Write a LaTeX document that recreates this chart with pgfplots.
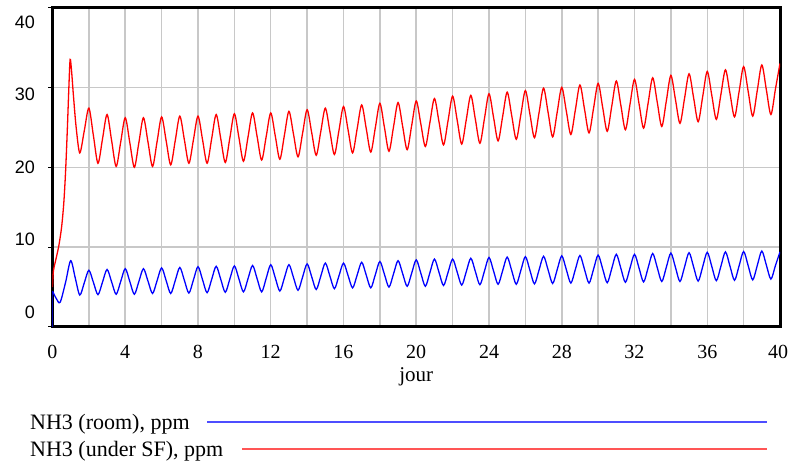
\documentclass[border=0pt]{standalone}
\usepackage{fontspec}
\setmainfont{Liberation Serif}
\newfontfamily\arialf{Liberation Sans}
\usepackage{pgfplots}
\pgfplotsset{compat=1.18}
\definecolor{gridgray}{RGB}{200,200,200}
\definecolor{legblue}{RGB}{77,77,255}
\definecolor{legred}{RGB}{255,85,85}
\begin{document}
\begin{tikzpicture}[x=1pt,y=1pt]
\begin{axis}[
 at={(0,0)}, anchor=south west,
 scale only axis, width=727.5pt, height=319.5pt,
 xmin=0,xmax=40,ymin=0,ymax=40,
 axis line style={line width=3pt, black},
 xtick={0,2,...,40},
 xticklabels={0,,4,,8,,12,,16,,20,,24,,28,,32,,36,,{\hbox to 24pt{40\hss}}},
 xticklabel style={font=\fontsize{20}{24}\selectfont, anchor=base, yshift=-27.7pt, inner sep=0pt},
 xtick style={draw=none},
 ytick={0,10,20,30,40},
 yticklabels={},
 ytick style={draw=black, line width=1pt},
 tick align=outside, ytick pos=left, xtick pos=bottom, major tick length=4pt,
 grid=major, grid style={gridgray, line width=1.5pt},
 extra y ticks={1.78,10.96,19.96,29.1,38.2},
 extra y tick labels={0,10,20,30,40},
 extra y tick style={grid=none, major tick length=0pt, tick style={draw=none}, yticklabel style={font=\arialf\fontsize{18}{22}\selectfont, anchor=east, inner sep=0pt, xshift=-17.5pt}},
]
\addplot[red, line width=1.3pt, smooth] coordinates {
(0,5.0) (0.05,7.0) (0.2,8.6) (0.35,10.2) (0.5,12.5) (0.62,15.5) (0.72,19.5) (0.82,25) (0.9,30) (0.97,33.5) (1.05,32) (1.15,29) (1.3,25) (1.5,21.8) (1.75,24.6) (2,27.4) (2.25,23.95) (2.5,20.5) (2.75,23.55) (3,26.6) (3.25,23.35) (3.5,20.1) (3.75,23.15) (4,26.2) (4.25,23.1) (4.5,20.0) (4.75,23.1) (5,26.2) (5.25,23.15) (5.5,20.1) (5.75,23.2) (6,26.3) (6.25,23.3) (6.5,20.3) (6.75,23.35) (7,26.4) (7.25,23.45) (7.5,20.5) (7.75,23.45) (8,26.4) (8.25,23.45) (8.5,20.5) (8.75,23.55) (9,26.6) (9.25,23.6) (9.5,20.6) (9.75,23.65) (10,26.7) (10.25,23.72) (10.5,20.75) (10.75,23.78) (11,26.8) (11.25,23.85) (11.5,20.9) (11.75,23.85) (12,26.8) (12.25,23.9) (12.5,21.0) (12.75,24.0) (13,27.0) (13.25,24.15) (13.5,21.3) (13.75,24.25) (14,27.2) (14.25,24.35) (14.5,21.5) (14.75,24.45) (15,27.4) (15.25,24.5) (15.5,21.6) (15.75,24.6) (16,27.6) (16.25,24.7) (16.5,21.8) (16.75,24.8) (17,27.8) (17.25,24.85) (17.5,21.9) (17.75,24.95) (18,28.0) (18.25,25.0) (18.5,22.0) (18.75,25.05) (19,28.1) (19.25,25.15) (19.5,22.2) (19.75,25.25) (20,28.3) (20.25,25.45) (20.5,22.6) (20.75,25.6) (21,28.6) (21.25,25.7) (21.5,22.8) (21.75,25.85) (22,28.9) (22.25,25.9) (22.5,22.9) (22.75,25.95) (23,29.0) (23.25,26.0) (23.5,23.0) (23.75,26.1) (24,29.2) (24.25,26.25) (24.5,23.3) (24.75,26.35) (25,29.4) (25.25,26.45) (25.5,23.5) (25.75,26.55) (26,29.6) (26.25,26.65) (26.5,23.7) (26.75,26.8) (27,29.9) (27.25,26.85) (27.5,23.8) (27.75,26.9) (28,30.0) (28.25,27.05) (28.5,24.1) (28.75,27.2) (29,30.3) (29.25,27.3) (29.5,24.3) (29.75,27.4) (30,30.5) (30.25,27.5) (30.5,24.5) (30.75,27.65) (31,30.8) (31.25,27.75) (31.5,24.7) (31.75,27.85) (32,31.0) (32.25,27.95) (32.5,24.9) (32.75,28.05) (33,31.2) (33.25,28.15) (33.5,25.1) (33.75,28.3) (34,31.5) (34.25,28.5) (34.5,25.5) (34.75,28.6) (35,31.7) (35.25,28.7) (35.5,25.7) (35.75,28.85) (36,32.0) (36.25,29.0) (36.5,26.0) (36.75,29.1) (37,32.2) (37.25,29.25) (37.5,26.3) (37.75,29.45) (38,32.6) (38.25,29.5) (38.5,26.4) (38.75,29.6) (39,32.8) (39.25,29.7) (39.5,26.6) (39.75,29.8) (40,33.0)
};
\addplot[blue, line width=1.3pt] coordinates {(0,0) (0,4.5)};
\addplot[blue, line width=1.3pt, smooth] coordinates {
(0,4.5) (0.2,3.6) (0.42,3.1) (0.72,5.6) (1,8.3) (1.25,6.15) (1.5,4.0) (1.75,5.55) (2,7.1) (2.25,5.58) (2.5,4.05) (2.75,5.62) (3,7.2) (3.25,5.65) (3.5,4.1) (3.75,5.7) (4,7.3) (4.25,5.7) (4.5,4.1) (4.75,5.7) (5,7.3) (5.25,5.75) (5.5,4.2) (5.75,5.8) (6,7.4) (6.25,5.8) (6.5,4.2) (6.75,5.82) (7,7.45) (7.25,5.85) (7.5,4.25) (7.75,5.9) (8,7.55) (8.25,5.92) (8.5,4.3) (8.75,5.95) (9,7.6) (9.25,5.98) (9.5,4.35) (9.75,6.0) (10,7.65) (10.25,6.02) (10.5,4.4) (10.75,6.05) (11,7.7) (11.25,6.05) (11.5,4.4) (11.75,6.1) (12,7.8) (12.25,6.15) (12.5,4.5) (12.75,6.15) (13,7.8) (13.25,6.2) (13.5,4.6) (13.75,6.25) (14,7.9) (14.25,6.3) (14.5,4.7) (14.75,6.35) (15,8.0) (15.25,6.4) (15.5,4.8) (15.75,6.4) (16,8.0) (16.25,6.45) (16.5,4.9) (16.75,6.5) (17,8.1) (17.25,6.5) (17.5,4.9) (17.75,6.55) (18,8.2) (18.25,6.6) (18.5,5.0) (18.75,6.65) (19,8.3) (19.25,6.7) (19.5,5.1) (19.75,6.75) (20,8.4) (20.25,6.75) (20.5,5.1) (20.75,6.8) (21,8.5) (21.25,6.85) (21.5,5.2) (21.75,6.85) (22,8.5) (22.25,6.88) (22.5,5.25) (22.75,6.92) (23,8.6) (23.25,6.95) (23.5,5.3) (23.75,7.0) (24,8.7) (24.25,7.02) (24.5,5.35) (24.75,7.05) (25,8.75) (25.25,7.05) (25.5,5.35) (25.75,7.08) (26,8.8) (26.25,7.1) (26.5,5.4) (26.75,7.12) (27,8.85) (27.25,7.15) (27.5,5.45) (27.75,7.18) (28,8.9) (28.25,7.2) (28.5,5.5) (28.75,7.22) (29,8.95) (29.25,7.22) (29.5,5.5) (29.75,7.25) (30,9.0) (30.25,7.28) (30.5,5.55) (30.75,7.32) (31,9.1) (31.25,7.35) (31.5,5.6) (31.75,7.35) (32,9.1) (32.25,7.38) (32.5,5.65) (32.75,7.42) (33,9.2) (33.25,7.45) (33.5,5.7) (33.75,7.48) (34,9.25) (34.25,7.48) (34.5,5.7) (34.75,7.5) (35,9.3) (35.25,7.52) (35.5,5.75) (35.75,7.55) (36,9.35) (36.25,7.58) (36.5,5.8) (36.75,7.6) (37,9.4) (37.25,7.62) (37.5,5.85) (37.75,7.65) (38,9.45) (38.25,7.68) (38.5,5.9) (38.75,7.7) (39,9.5) (39.25,7.75) (39.5,6.0) (39.75,7.7) (40,9.4)
};
\end{axis}
\node[anchor=base, inner sep=0pt, font=\fontsize{21}{25}\selectfont] at (363.75,-54.3) {jour};
\node[anchor=base west, inner sep=0pt, font=\fontsize{22}{26}\selectfont] at (-22.5,-103) {NH3 (room), ppm};
\draw[legblue, line width=2pt] (154.8,-95.3) -- (714.2,-95.3);
\node[anchor=base west, inner sep=0pt, font=\fontsize{22}{26}\selectfont] at (-22.5,-129.7) {NH3 (under SF), ppm};
\draw[legred, line width=2pt] (189.8,-122) -- (714.2,-122);
\pgfresetboundingbox
\path[use as bounding box] (-52.5,-136) rectangle (735.5,327);
\end{tikzpicture}
\end{document}
